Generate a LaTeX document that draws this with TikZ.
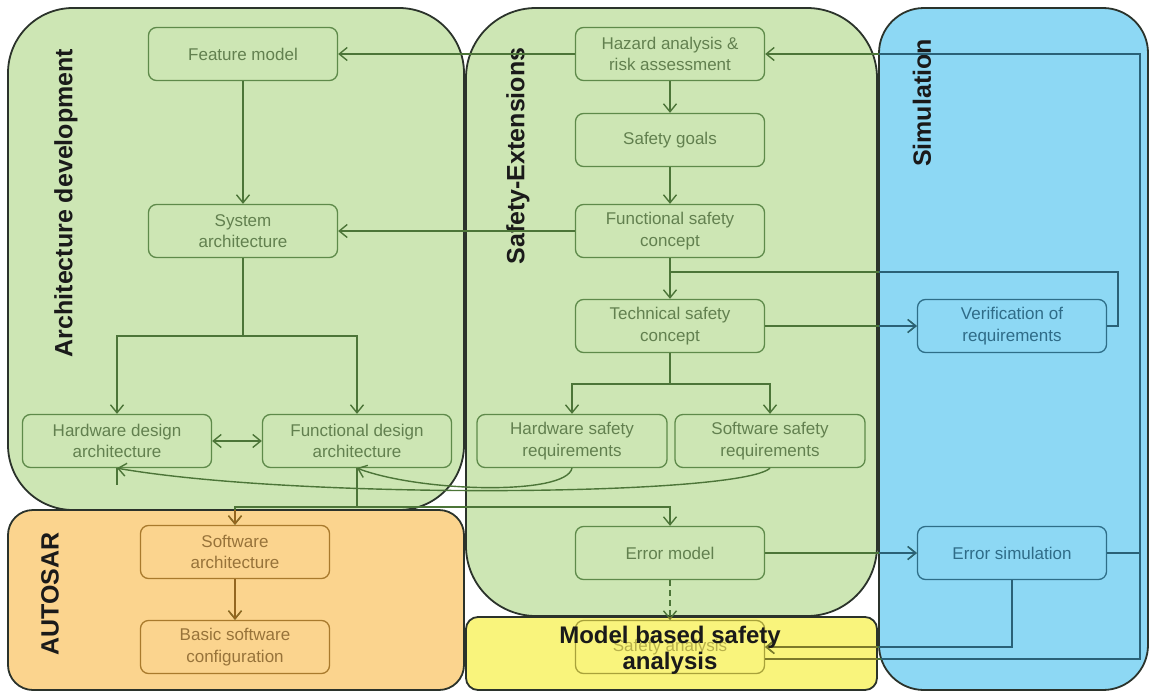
\documentclass[tikz,border=0pt]{standalone}
\usepackage{fontspec}
\setmainfont{Liberation Sans}
\usetikzlibrary{arrows.meta}

% region fills and outlines
\definecolor{frame}{HTML}{2B332B}
\definecolor{titleC}{HTML}{1A1A1A}
\definecolor{fillG}{HTML}{CDE6B4}
\definecolor{nodeG}{HTML}{5E8A4A}
\definecolor{textG}{HTML}{62804F}
\definecolor{lineG}{HTML}{4C7538}
\definecolor{fillB}{HTML}{8DD8F4}
\definecolor{nodeB}{HTML}{2E6E88}
\definecolor{textB}{HTML}{2F6C88}
\definecolor{lineB}{HTML}{2A6177}
\definecolor{fillO}{HTML}{FBD48E}
\definecolor{nodeO}{HTML}{A97A2C}
\definecolor{textO}{HTML}{97733A}
\definecolor{lineO}{HTML}{94661F}
\definecolor{fillY}{HTML}{F9F47C}
\definecolor{nodeY}{HTML}{A8A23A}
\definecolor{textY}{HTML}{B7B04A}
\definecolor{lineY}{HTML}{7D7A2A}

\def\wirecolor{lineG}

% all connectors, drawn in the colour given as argument
\newcommand\wiring[1]{%
  \def\wirecolor{#1}%
  % architecture development
  \draw[flow] (haz.west) -- (feat.east);
  \draw[flow] (feat) -- (sys);
  \draw[flow] (fsc.west) -- (sys.east);
  \draw[flow] (sys.south) -- (archfork) -| (hwd.north);
  \draw[flow] (archfork) -| (fnd.north);
  \draw[twoway] (hwd) -- (fnd);
  \draw[link] (hwd.south) -- ++(0,17);
  % safety chain
  \draw[flow] (haz) -- (goals);
  \draw[flow] (goals) -- (fsc);
  \draw[flow] (fsc) -- (tsc);
  \draw[flow] (tsc.south) -- (safefork) -| (hwr.north);
  \draw[flow] (safefork) -| (swr.north);
  \draw[flow] (tsc) -- (ver);
  \draw[link] (ver.east) -| (loop) |- (fscjoin);
  % requirements back to the design
  \draw[flow] (hwr.south) .. controls (566,496) and (420,492) .. (fnd.south);
  \draw[flow] (swr.south) .. controls (740,496) and (300,500) .. (hwd.south);
  % design to software and error model
  \draw[link] (fnd.south) -- (bus);
  \draw[flow] (bus) -| (swa.north);
  \draw[flow] (bus) -| (err.north);
  \draw[flow] (swa) -- (bsw);
  % error handling
  \draw[flow] (err) -- (esim);
  \draw[flow,dashed,dash pattern=on 6pt off 4pt] (err) -- (sa);
  \draw[flow] (esim.south) |- (sa.east);
  \draw[link] (esim.east) -- (esim.east -| rail);
  \draw[flow] ([yshift=-12pt]sa.east) -| (rail) |- (haz.east);
}

\begin{document}
\begin{tikzpicture}[x=1pt,y=-1pt,
  container/.style={draw=frame, line width=1.8pt},
  stepnode/.style={rectangle, rounded corners=8pt, minimum width=189pt,
    minimum height=53pt, line width=1.3pt, align=center, inner sep=0pt,
    font=\fontsize{17}{21.5}\selectfont},
  gnode/.style={stepnode, draw=nodeG, fill=fillG, text=textG},
  bnode/.style={stepnode, draw=nodeB, fill=fillB, text=textB},
  onode/.style={stepnode, draw=nodeO, fill=fillO, text=textO},
  ynode/.style={stepnode, draw=nodeY, fill=fillY, text=textY},
  lane/.style={font=\bfseries\fontsize{25}{28}\selectfont, text=titleC,
    rotate=90, inner sep=0pt},
  link/.style={draw=\wirecolor, line width=1.4pt},
  flow/.style={link, -{Straight Barb[length=8pt,width=13pt,line width=1.4pt]}},
  twoway/.style={link, {Straight Barb[length=8pt,width=13pt,line width=1.4pt]}-{Straight Barb[length=8pt,width=13pt,line width=1.4pt]}},
]
\useasboundingbox (0,0) rectangle (1151,693);

% swim lanes
\path[container, fill=fillG, rounded corners=65pt] (8,8) rectangle (464,510);
\path[container, fill=fillG, rounded corners=70pt] (466,8) rectangle (877,616);
\path[container, fill=fillB, rounded corners=45pt] (879,8) rectangle (1148,690);
\path[container, fill=fillO, rounded corners=25pt] (8,510) rectangle (464,690);
\path[container, fill=fillY, rounded corners=12pt] (466,617) rectangle (877,690);

% lane titles
\node[lane] (tArch) at (66,203) {Architecture development};
\node[lane] (tSafe) at (518,156) {Safety-Extensions};
\node[lane] (tSim) at (922,103) {Simulation};
\node[lane] (tAuto) at (50,594) {AUTOSAR};

% architecture development
\node[gnode] (feat) at (243,54) {Feature model};
\node[gnode] (sys) at (243,231) {System\\architecture};
\node[gnode] (hwd) at (117,441) {Hardware design\\architecture};
\node[gnode] (fnd) at (357,441) {Functional design\\architecture};

% safety extensions
\node[gnode] (haz) at (670,54) {Hazard analysis \&\\risk assessment};
\node[gnode] (goals) at (670,140) {Safety goals};
\node[gnode] (fsc) at (670,231) {Functional safety\\concept};
\node[gnode] (tsc) at (670,326) {Technical safety\\concept};
\node[gnode, minimum width=190pt] (hwr) at (572,441) {Hardware safety\\requirements};
\node[gnode, minimum width=190pt] (swr) at (770,441) {Software safety\\requirements};
\node[gnode] (err) at (670,553) {Error model};

% simulation
\node[bnode] (ver) at (1012,326) {Verification of\\requirements};
\node[bnode] (esim) at (1012,553) {Error simulation};

% AUTOSAR
\node[onode] (swa) at (235,552) {Software\\architecture};
\node[onode] (bsw) at (235,647) {Basic software\\configuration};

% model based safety analysis
\node[ynode] (sa) at (670,647) {Safety analysis};

% junctions and rails
\coordinate (archfork) at (243,336);
\coordinate (safefork) at (670,384);
\coordinate (fscjoin) at (670,272);
\coordinate (loop) at (1118,300);
\coordinate (bus) at (357,507);
\coordinate (rail) at (1140,400);

% connectors, tinted by the lane they cross
\wiring{lineG}
\begin{scope}
  \clip[rounded corners=45pt] (879,8) rectangle (1148,690);
  \wiring{lineB}
\end{scope}
\begin{scope}
  \clip[rounded corners=25pt] (8,510) rectangle (464,690);
  \wiring{lineO}
\end{scope}
\begin{scope}
  \clip[rounded corners=12pt] (466,617) rectangle (877,690);
  \wiring{lineY}
\end{scope}

\node[font=\bfseries\fontsize{24}{26}\selectfont, align=center, text=titleC]
  (tMbsa) at (670,650) {Model based safety\\analysis};
\end{tikzpicture}
\end{document}
